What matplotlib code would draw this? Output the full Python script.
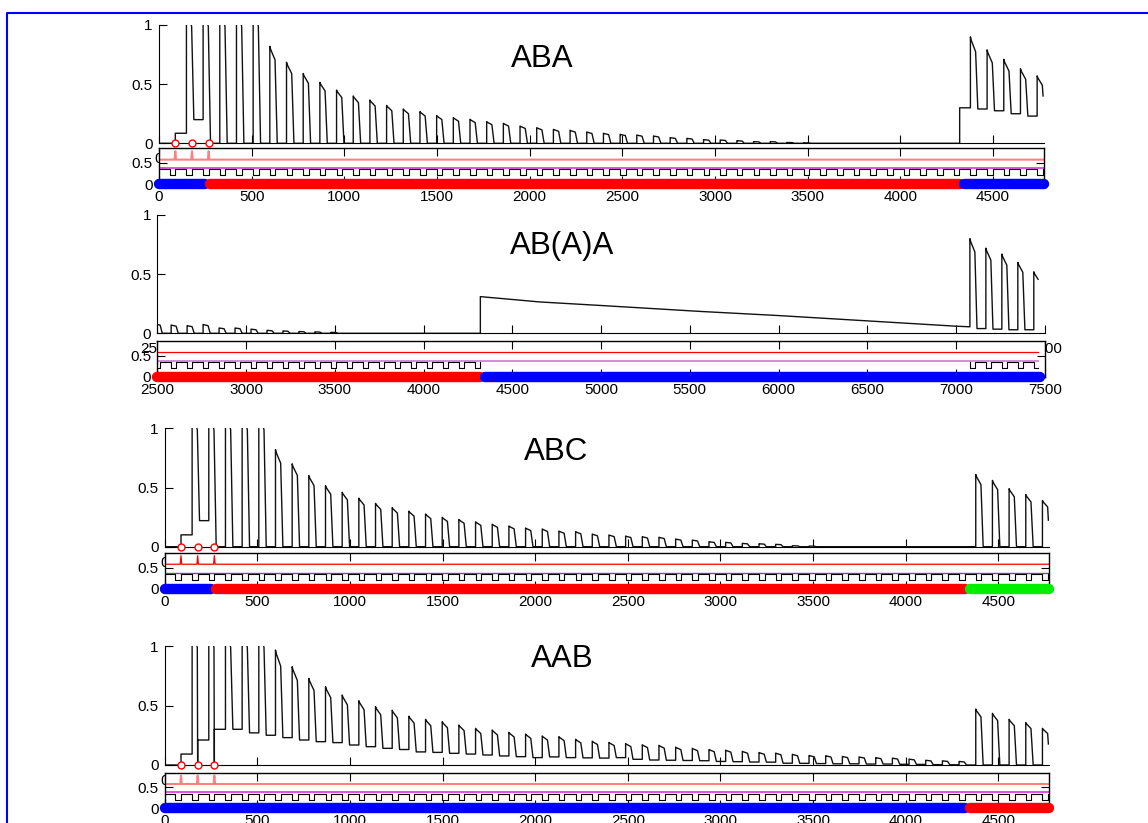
import numpy as np
import matplotlib.pyplot as plt
from matplotlib.lines import Line2D

plt.rcParams['font.family'] = ['Liberation Sans', 'DejaVu Sans']

W, H = 1148, 823

# stimulus timing (ms)
period = 90
first_onset = 148
stim_times = [88, 178, 268]

# ---- ABA: peak per response (k = 0..51) and level after it
aba_peaks = [1.15, 1.15, 1.15, 1.15, 1.15,
             0.82, 0.685, 0.59, 0.515, 0.45, 0.40, 0.366, 0.32, 0.29, 0.268,
             0.234, 0.217, 0.203, 0.183,
             0.169, 0.146, 0.132, 0.118, 0.11, 0.096, 0.085, 0.076, 0.07, 0.062,
             0.048, 0.042, 0.031, 0.028, 0.022, 0.014, 0.014, 0.007, 0.004,
             0, 0, 0, 0, 0, 0, 0, 0, 0,
             0.9, 0.79, 0.71, 0.63, 0.57]
aba_bases = [0.2] + [0] * 45 + [0.30, 0.29, 0.275, 0.25, 0.23, 0.22]
aba_pre = [(0, 0.0), (88, 0.085)]

# ---- AB(A)A: responses k = 26..46, slow decay, then k = 77..81
aba2_peaks = [0.08, 0.07, 0.065, 0.075, 0.045, 0.045, 0.035, 0.025, 0.02,
              0.015, 0.012, 0.008, 0, 0, 0, 0, 0, 0, 0, 0, 0]
aba2_bases = [0] * 20 + [0.31]
aba2_decay_t = [4655, 5000, 5558, 6000, 6500, 7000, 7078]
aba2_decay_v = [0.265, 0.235, 0.185, 0.15, 0.105, 0.06, 0.055]
aba2_end_peaks = [0.8, 0.72, 0.67, 0.6, 0.52]
aba2_end_bases = [0.04, 0.035, 0.03, 0.03, 0.03]

# ---- ABC
abc_peaks = [1.15, 1.15, 1.15, 1.15, 1.15,
             0.82, 0.70, 0.60, 0.515, 0.46, 0.41, 0.366, 0.33, 0.30, 0.276,
             0.248, 0.23, 0.21, 0.19, 0.175, 0.158, 0.15, 0.132, 0.127, 0.107,
             0.099, 0.09, 0.085, 0.08, 0.065, 0.056, 0.042, 0.037, 0.028, 0.025,
             0.02, 0.008, 0.005,
             0, 0, 0, 0, 0, 0, 0, 0, 0,
             0.61, 0.56, 0.49, 0.44, 0.39]
abc_bases = [0.22] + [0] * 51
abc_pre = [(0, 0.0), (88, 0.1)]

# ---- AAB
aab_peaks = [1.15, 1.15, 1.15, 1.15, 1.15,
             0.966, 0.826, 0.728, 0.658, 0.588, 0.54, 0.49, 0.46, 0.41, 0.384,
             0.364, 0.336, 0.308, 0.294, 0.274, 0.26, 0.244, 0.238, 0.216, 0.2,
             0.19, 0.18, 0.17, 0.165, 0.15, 0.14, 0.13, 0.125, 0.115, 0.105,
             0.1, 0.09, 0.08, 0.078, 0.072, 0.068, 0.062, 0.058, 0.05, 0.04,
             0.035, 0.03,
             0.47, 0.434, 0.384, 0.356, 0.308]
aab_bases = [0.21, 0.30, 0.30, 0.27, 0.25, 0.23, 0.21, 0.196, 0.188, 0.168,
             0.154, 0.14, 0.13, 0.11, 0.106, 0.098, 0.092, 0.084, 0.076, 0.07,
             0.062, 0.068, 0.062, 0.06, 0.058,
             0.062, 0.048, 0.042, 0.04, 0.038, 0.036, 0.03, 0.028, 0.025, 0.024,
             0.015, 0.014, 0.012, 0.01, 0.01, 0.008, 0.008, 0.006, 0.005, 0.003,
             0.002, 0,
             0, 0, 0, 0, 0]
aab_pre = [(0, 0.0), (88, 0.092)]
aab_dips = [0, 1]

# lower strip levels
red_level = 0.58
red_spike = 0.78
pink_level = 0.38
sq_hi = 0.35
sq_lo = 0.21

# context bars (start, end, colour)
aba_bars = [(0, 250, 'blue'), (275, 4320, 'red'), (4345, 4775, 'blue')]
aba2_bars = [(2500, 4320, 'red'), (4345, 7475, 'blue')]
abc_bars = [(0, 250, 'blue'), (275, 4320, 'red'), (4345, 4775, '#00ee00')]
aab_bars = [(0, 4320, 'blue'), (4345, 4775, 'red')]


def add_pulses(ts, ys, peaks, bases, k_first, dips=()):
    for i, (p, b) in enumerate(zip(peaks, bases)):
        on = first_onset + period * (k_first + i)
        prev = ys[-1]
        if p > prev:
            ts += [on, on, on + 4, on + 28]
            ys += [prev, p, 0.97 * p, 0.86 * p]
            if i in dips:
                ts += [on + 30, on + 30]
                ys += [0, b]
            else:
                ts += [on + 40]
                ys += [b]
        else:
            ts += [on + 32, on + 32]
            ys += [prev, b]
    return ts, ys


def start_trace(pre):
    ts, ys = [], []
    for t, v in pre:
        if ts:
            ts.append(t)
            ys.append(ys[-1])
        ts.append(t)
        ys.append(v)
    return ts, ys


def cut(ts, ys, t_end):
    ts = np.array(ts, dtype=float)
    ys = np.array(ys, dtype=float)
    keep = ts < t_end
    return np.append(ts[keep], t_end), np.append(ys[keep], np.interp(t_end, ts, ys))


def square_wave(k_first, k_last, t0, t1):
    ts, ys = [t0], [sq_hi]
    for k in range(k_first, k_last + 1):
        on = first_onset + period * k
        ts += [on, on, on + 30, on + 30]
        ys += [sq_hi, sq_lo, sq_lo, sq_hi]
    ts.append(t1)
    ys.append(sq_hi)
    return cut(ts, ys, t1) if ts[-2] > t1 else (ts, ys)


def px_rect(left, right, top, bottom):
    return [left / W, 1 - bottom / H, (right - left) / W, (bottom - top) / H]


def make_panel(fig, box, low_top, low_bottom, xlim, xt, title, title_xy,
               trace, red_col, red_lw, pink_col, pink_lw, sq, bars, circles):
    left, right, top, bottom = box
    ax = fig.add_axes(px_rect(left, right, top, bottom))
    lo = fig.add_axes(px_rect(left, right, low_top, low_bottom))
    ax.set_zorder(1)
    lo.set_zorder(2)

    ax.plot(trace[0], trace[1], color='#111111', lw=1.0)
    if circles:
        ax.plot(stim_times, [0] * len(stim_times), 'o', ms=5, mfc='white',
                mec='red', mew=1.0, clip_on=False, zorder=5)
    ax.set_xlim(xlim)
    ax.set_ylim(0, 1)
    ax.set_xticks(xt)
    ax.set_xticklabels([str(v) for v in xt])
    ax.set_yticks([0, 0.5, 1])
    ax.set_yticklabels(['0', '0.5', '1'])
    ax.spines[['top', 'right']].set_visible(False)
    for s in ['left', 'bottom']:
        ax.spines[s].set_linewidth(0.8)
    ax.tick_params(direction='in', length=6, width=0.8, labelsize=11, pad=4.5)
    ax.tick_params(axis='x', pad=6.5)

    # lower strip
    x0, x1 = xlim
    rt, rv = [x0], [red_level]
    if circles:
        for s in stim_times:
            rt += [s - 4, s, s + 4]
            rv += [red_level, red_spike, red_level]
    rt.append(trace[0][-1] if x0 > 0 else x1)
    rv.append(red_level)
    lo.plot(rt, rv, color=red_col, lw=red_lw)
    lo.plot([x0, rt[-1]], [pink_level, pink_level], color=pink_col, lw=pink_lw)
    for st, sy in sq:
        lo.plot(st, sy, color='black', lw=0.8)
    for a, b, c in bars:
        lo.plot([a, b], [0, 0], color=c, lw=7.5, solid_capstyle='round',
                clip_on=False, zorder=6)
    lo.set_xlim(xlim)
    lo.set_ylim(0, 0.85)
    lo.set_xticks(xt)
    lo.set_xticklabels([str(v) for v in xt])
    lo.set_yticks([0, 0.5])
    lo.set_yticklabels(['0', '0.5'])
    for s in lo.spines.values():
        s.set_linewidth(1.0)
    lo.tick_params(direction='in', top=True, right=True, length=6, width=0.8,
                   labelsize=11, pad=4.5)
    lo.tick_params(axis='x', pad=4)

    fig.text(title_xy[0] / W, 1 - title_xy[1] / H, title, fontsize=22.5,
             ha='center', va='baseline')


fig = plt.figure(figsize=(W / 100, H / 100), dpi=100)

xt_a = list(range(0, 5000, 500))
xt_b = list(range(2500, 8000, 500))

# ABA
ts, ys = start_trace(aba_pre)
add_pulses(ts, ys, aba_peaks, aba_bases, 0)
tr1 = cut(ts, ys, 4770)
make_panel(fig, (159, 1044, 25, 143.3), 148.3, 184, (0, 4775), xt_a, 'ABA', (542, 67),
           tr1, '#ff8080', 1.5, '#e030e0', 1.2,
           [square_wave(-1, 51, 0, 4775)], aba_bars, True)

# AB(A)A
ts, ys = [2488], [0.0]
add_pulses(ts, ys, aba2_peaks, aba2_bases, 26)
ts += aba2_decay_t
ys += aba2_decay_v
add_pulses(ts, ys, aba2_end_peaks, aba2_end_bases, 77)
tr2 = cut(ts, ys, 7462)
sq2 = [square_wave(26, 46, 2500, 4320), square_wave(77, 81, 7076, 7462)]
make_panel(fig, (157.3, 1044.8, 215, 333.3), 341, 377, (2500, 7500), xt_b, 'AB(A)A', (562, 254),
           tr2, '#ff0000', 0.9, '#d98be0', 1.5, sq2, aba2_bars, False)

# ABC
ts, ys = start_trace(abc_pre)
add_pulses(ts, ys, abc_peaks, abc_bases, 0)
tr3 = cut(ts, ys, 4770)
make_panel(fig, (164.7, 1049.3, 428.3, 546.7), 552.7, 589, (0, 4775), xt_a, 'ABC', (556, 460.5),
           tr3, '#ff0000', 0.9, '#9b30c0', 1.0,
           [square_wave(-1, 51, 0, 4775)], abc_bars, True)

# AAB
ts, ys = start_trace(aab_pre)
add_pulses(ts, ys, aab_peaks, aab_bases, 0, dips=aab_dips)
tr4 = cut(ts, ys, 4770)
make_panel(fig, (164.7, 1049.3, 646, 765), 772.7, 808.3, (0, 4775), xt_a, 'AAB', (562, 667),
           tr4, '#ff8080', 1.5, '#e030e0', 1.2,
           [square_wave(-1, 51, 0, 4775)], aab_bars, True)

# blue frame
fig.add_artist(Line2D([7 / W, 7 / W, 1], [0, 1 - 13 / H, 1 - 13 / H],
                      color='blue', lw=1.5, transform=fig.transFigure))

fig.savefig('out.png', dpi=100)
